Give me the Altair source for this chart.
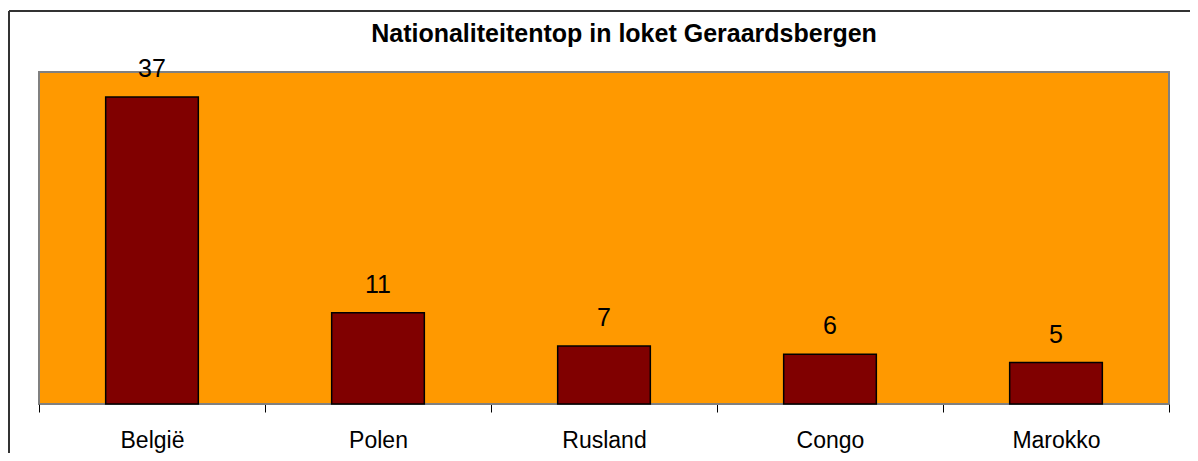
import altair as alt
import pandas as pd

countries = ["België", "Polen", "Rusland", "Congo", "Marokko"]
counts = [37, 11, 7, 6, 5]
title_text = "Nationaliteitentop in loket Geraardsbergen"

df = pd.DataFrame({"land": countries, "aantal": counts})

FONT = "Liberation Sans"

x_enc = alt.X(
    "land:N",
    sort=countries,
    title=None,
    scale=alt.Scale(paddingInner=0, paddingOuter=0),
    axis=alt.Axis(
        labelAngle=0,
        domainColor="#808080",
        domainWidth=1,
        tickColor="#000000",
        tickSize=8,
        tickWidth=1,
        tickBand="extent",
        labelFont=FONT,
        labelFontSize=23,
        labelColor="#000000",
        labelBaseline="alphabetic",
        labelPadding=35,
    ),
)
y_enc = alt.Y(
    "aantal:Q",
    title=None,
    scale=alt.Scale(domain=[0, 40], nice=False),
    axis=None,
)

base = alt.Chart(df)

bars = base.mark_bar(
    color="#800000", stroke="#000000", strokeWidth=1.5,
    width=alt.RelativeBandSize(0.41),
).encode(x=x_enc, y=y_enc)

labels = base.mark_text(
    font=FONT, fontSize=25, color="#000000", baseline="alphabetic", dy=-20
).encode(x=alt.X("land:N", sort=countries), y="aantal:Q", text="aantal:Q")

one = pd.DataFrame({"t": [title_text]})

title_mark = alt.Chart(one).mark_text(
    font=FONT, fontSize=25, fontWeight="bold", color="#000000",
    baseline="alphabetic", align="center",
).encode(x=alt.value(585), y=alt.value(-30), text="t:N")

frame_left = alt.Chart(one).mark_rule(
    color="#333333", strokeWidth=2
).encode(x=alt.value(-30), y=alt.value(-61), y2=alt.value(381))

frame_top = alt.Chart(one).mark_rule(
    color="#333333", strokeWidth=2
).encode(x=alt.value(-30), x2=alt.value(1151), y=alt.value(-61))

chart = (
    alt.layer(bars, labels, title_mark, frame_left, frame_top)
    .properties(
        width=1130,
        height=332,
        autosize=alt.AutoSizeParams(type="none"),
        padding={"left": 31, "top": 64, "right": 21, "bottom": 49},
        background="#ffffff",
    )
    .configure_view(fill="#FF9900", stroke="#808080", strokeWidth=2)
)

chart.save("out.html", embed_options={"renderer": "svg", "actions": False})
